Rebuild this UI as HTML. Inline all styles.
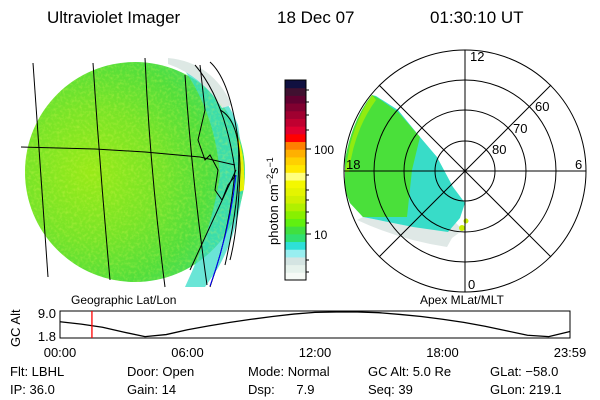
<!DOCTYPE html>
<html><head><meta charset="utf-8"><style>
body{margin:0;background:#fff;}
#wrap{position:relative;width:600px;height:400px;overflow:hidden;font-family:"Liberation Sans",sans-serif;}
.t{position:absolute;font-size:13px;color:#000;white-space:pre;line-height:1;}
.h{position:absolute;font-size:17px;color:#000;white-space:pre;line-height:1;}
</style></head><body>
<div id="wrap">
<div class="h" style="left:47px;top:9px">Ultraviolet Imager</div>
<div class="h" style="left:277px;top:9px">18 Dec 07</div>
<div class="h" style="left:430px;top:9px">01:30:10 UT</div>

<svg width="600" height="400" style="position:absolute;left:0;top:0">
<defs>
<clipPath id="gc"><rect x="0" y="40" width="260" height="247"/></clipPath>
<radialGradient id="gg" cx="0.3" cy="0.5" r="0.75">
<stop offset="0" stop-color="#98ea18"/><stop offset="0.4" stop-color="#78e428"/><stop offset="0.7" stop-color="#52de3c"/><stop offset="1" stop-color="#40dc70"/>
</radialGradient>
<filter id="nz"><feTurbulence type="fractalNoise" baseFrequency="0.35" numOctaves="2" seed="3"/><feColorMatrix values="0 0 0 0 0.75  0 0 0 0 0.95  0 0 0 0 0.1  0 0 0 1.4 -0.6"/><feComposite in2="SourceGraphic" operator="in"/></filter>
</defs>
<g clip-path="url(#gc)">
<circle cx="135" cy="172" r="110" fill="url(#gg)"/>
<path d="M180,64 Q220,80 238,125 L245,172 Q240,230 218,268 L205,287 L185,287 Q212,230 220,175 Q215,110 180,64Z" fill="#38dcc8" opacity="0.75"/>
<path d="M168,58 Q212,62 232,105 L222,108 Q202,76 168,64Z" fill="#dde8e4"/>
<path d="M234,128 Q246,150 244,190 L239,192 Q241,150 234,128Z" fill="#e8f000"/>
<circle cx="135" cy="172" r="110" filter="url(#nz)" opacity="0.5"/>
</g>
<g fill="none" stroke="#000" stroke-width="1">
<path d="M33,63 L48,277"/><path d="M93,63 Q100,170 110,280"/><path d="M145,58 Q150,170 165,287"/><path d="M185,75 Q192,180 207,285"/>
<path d="M21,147 L95,149 L145,152 L200,157 L235,165"/>
<path d="M195,65 Q225,100 235,170 Q230,230 210,287"/>
<path d="M200,65 L205,110 L198,140 L205,160 L210,155 L218,170 L215,190 L222,200 L228,185 L236,175"/>
<path d="M210,62 Q230,80 238,140 Q242,190 225,265"/>
<path d="M220,110 Q240,120 240,170 Q238,230 230,260"/>
<path d="M190,270 L236,170"/>
</g>
<path d="M236,175 Q230,230 210,286" fill="none" stroke="#0000ff" stroke-width="1"/>

<g id="cbar"></g>
<rect x="285" y="80" width="21" height="200" fill="none" stroke="#000"/>
<text x="314" y="154" font-size="12" font-family="Liberation Sans">100</text>
<text x="314" y="239" font-size="12" font-family="Liberation Sans">10</text>
<g stroke="#000">
<line x1="306" y1="149" x2="311" y2="149"/><line x1="306" y1="234" x2="311" y2="234"/>
<line x1="306" y1="90" x2="309" y2="90"/><line x1="306" y1="102" x2="309" y2="102"/><line x1="306" y1="115" x2="309" y2="115"/><line x1="306" y1="130" x2="309" y2="130"/><line x1="306" y1="175" x2="309" y2="175"/><line x1="306" y1="190" x2="309" y2="190"/><line x1="306" y1="200" x2="309" y2="200"/><line x1="306" y1="212" x2="309" y2="212"/><line x1="306" y1="223" x2="309" y2="223"/><line x1="306" y1="260" x2="309" y2="260"/><line x1="306" y1="272" x2="309" y2="272"/>
</g>
<text transform="translate(278,245) rotate(-90)" font-size="13" font-family="Liberation Sans">photon cm<tspan dy="-5" font-size="9">−2</tspan><tspan dy="5">s</tspan><tspan dy="-5" font-size="9">−1</tspan></text>

<g>
<path d="M357,220 Q400,240 447,247 L452,238 L463,230 L455,222 L413,227 L363,217Z" fill="#dfe8e6"/>
<path d="M372,95 L376,96 L398,110 L420,137 L437,157 L453,187 L465,203 L460,218 L448,232 L413,227 L363,217 L350,203 L345,190 L345,160 Q352,120 372,95Z" fill="#38dcc8"/>
<path d="M372,95 L378,98 L398,112 L420,137 L412,170 L407,217 L363,217 L350,203 L345,190 L345,160 Q352,120 372,95Z" fill="#4ae03a"/>
<path d="M372,95 Q358,115 350,145 L345,172 L349,172 Q354,130 376,100Z" fill="#90ec10"/>
<circle cx="466" cy="221" r="2.5" fill="#c8f000"/><circle cx="462" cy="228" r="3" fill="#c8f000"/>
</g>
<g id="polar" fill="none" stroke="#000">
<circle cx="465" cy="171" r="121"/><circle cx="465" cy="171" r="91"/><circle cx="465" cy="171" r="61"/><circle cx="465" cy="171" r="30"/>
<line x1="344" y1="171" x2="586" y2="171"/><line x1="465" y1="50" x2="465" y2="292"/>
<line x1="379" y1="85" x2="551" y2="257"/><line x1="379" y1="257" x2="551" y2="85"/>
</g>
<g font-size="13" font-family="Liberation Sans">
<text x="470" y="61">12</text><text x="468" y="289">0</text><text x="346" y="169">18</text><text x="575" y="169">6</text>
<text x="535" y="111">60</text><text x="513" y="133">70</text><text x="492" y="154">80</text>
</g>

<text x="71" y="304" font-size="12" font-family="Liberation Sans">Geographic Lat/Lon</text>
<text x="420" y="304" font-size="12" font-family="Liberation Sans">Apex MLat/MLT</text>

<g id="alt"></g>
<text transform="translate(20,347) rotate(-90)" font-size="13" font-family="Liberation Sans">GC Alt</text>
</svg>

<div class="t" style="left:10px;top:365px">Flt: LBHL</div>
<div class="t" style="left:127px;top:365px">Door: Open</div>
<div class="t" style="left:248px;top:365px">Mode: Normal</div>
<div class="t" style="left:368px;top:365px">GC Alt: 5.0 Re</div>
<div class="t" style="left:490px;top:365px">GLat: −58.0</div>
<div class="t" style="left:10px;top:383px">IP: 36.0</div>
<div class="t" style="left:127px;top:383px">Gain: 14</div>
<div class="t" style="left:248px;top:383px">Dsp:      7.9</div>
<div class="t" style="left:368px;top:383px">Seq: 39</div>
<div class="t" style="left:490px;top:383px">GLon: 219.1</div>
</div>
<script>
const NS='http://www.w3.org/2000/svg';
const cbarColors=['#f6faf6','#e6f2ec','#d4e4e2','#98eef0','#2ee0d8','#30e070','#40e040','#60f010','#88f000','#b0f000','#d0f000','#e4f400','#f4f800','#ffff80','#ffe800','#ffd000','#ffb000','#ff8000','#ff0000','#e00030','#c00030','#a00030','#800030','#600030','#401030','#101040'];
const altHours=[0,1,2,3,4,5,6,7,8,9,10,11,12,13,14,15,16,17,18,19,20,21,22,23,24];
const altValues=[6.2,5.5,4.6,3.2,1.9,2.5,3.9,5.0,6.0,6.9,7.7,8.4,8.9,9.0,9.0,8.8,8.3,7.7,6.9,6.0,4.9,3.6,2.3,1.9,3.4];
const altTickLabels=['9.0','1.8'];
const altTickValues=[9.0,1.8];
const timeTickLabels=['00:00','06:00','12:00','18:00','23:59'];
const timeTickHours=[0,6,12,18,24];
const currentHour=1.5028;

const cb=document.getElementById('cbar');
const bh=200/cbarColors.length;
cbarColors.forEach((c,i)=>{
  const r=document.createElementNS(NS,'rect');
  r.setAttribute('x',285);r.setAttribute('y',280-(i+1)*bh);
  r.setAttribute('width',21);r.setAttribute('height',bh+0.5);r.setAttribute('fill',c);
  
  
  cb.appendChild(r);
});

const X0=60,X1=570,Y0=311,Y1=338;
const xs=h=>X0+(h/24)*(X1-X0);
const ys=v=>Y1-1-(v-1.8)/(9.0-1.8)*(Y1-Y0-2);
const g=document.getElementById('alt');
const fr=document.createElementNS(NS,'rect');
fr.setAttribute('x',X0);fr.setAttribute('y',Y0);fr.setAttribute('width',X1-X0);fr.setAttribute('height',Y1-Y0);
fr.setAttribute('fill','none');fr.setAttribute('stroke','#000');


g.appendChild(fr);
const pl=document.createElementNS(NS,'polyline');
pl.setAttribute('points',altHours.map((h,i)=>xs(h)+','+ys(altValues[i])).join(' '));
pl.setAttribute('fill','none');pl.setAttribute('stroke','#000');pl.setAttribute('stroke-width','1.3');


g.appendChild(pl);
const rl=document.createElementNS(NS,'line');
rl.setAttribute('x1',xs(currentHour));rl.setAttribute('x2',xs(currentHour));
rl.setAttribute('y1',Y0);rl.setAttribute('y2',Y1);rl.setAttribute('stroke','#ff0000');rl.setAttribute('stroke-width','1.3');


g.appendChild(rl);
altTickLabels.forEach((l,i)=>{
  const t=document.createElementNS(NS,'text');
  t.setAttribute('x',56);t.setAttribute('y',i===0?318:341);
  t.setAttribute('text-anchor','end');t.setAttribute('font-size','13');t.setAttribute('font-family','Liberation Sans');
  t.textContent=l;
  
  
  g.appendChild(t);
});
timeTickLabels.forEach((l,i)=>{
  const t=document.createElementNS(NS,'text');
  t.setAttribute('x',xs(timeTickHours[i]));t.setAttribute('y',357);
  t.setAttribute('text-anchor','middle');t.setAttribute('font-size','13');t.setAttribute('font-family','Liberation Sans');
  t.textContent=l;
  
  
  g.appendChild(t);
});
</script>
</body></html>
